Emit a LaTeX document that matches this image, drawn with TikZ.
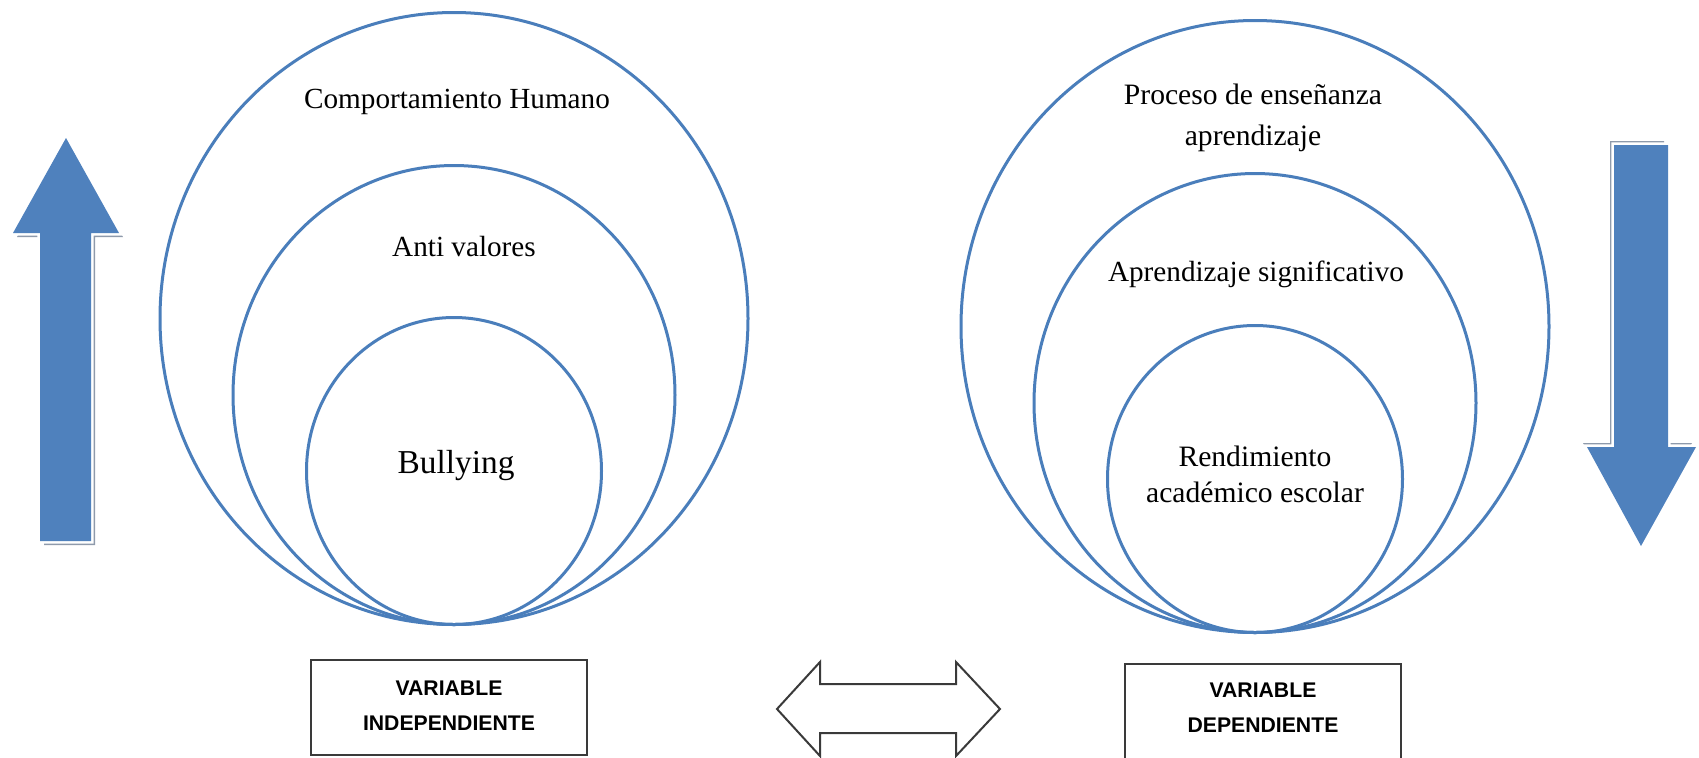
\documentclass[tikz,border=0pt]{standalone}
\usepackage{fontspec}
\setmainfont{Liberation Serif}
\newfontfamily\boxfont{Liberation Sans}
\usetikzlibrary{shapes.geometric}
\definecolor{ringblue}{HTML}{4A7EBB}
\definecolor{arrowblue}{HTML}{4F81BD}
\definecolor{shadowgray}{HTML}{8E9AAB}
\definecolor{boxline}{HTML}{3A3A3A}
\begin{document}
\begin{tikzpicture}[x=0.5pt,y=-0.5pt,
  ring/.style={draw=ringblue, line width=1.5pt, ellipse, inner sep=0pt},
  lbl/.style={inner sep=0pt, font=\fontsize{14.6}{17.5}\selectfont, align=center},
  vbox/.style={draw=boxline, line width=1pt, rectangle, inner sep=0pt, minimum width=138pt, fill=white},
  vtext/.style={inner sep=0pt, align=center, font=\boxfont\bfseries\fontsize{10.6}{17.5}\selectfont},
  blockshadow/.style={fill=shadowgray, draw=none},
  blockglow/.style={draw=white, line width=2.6pt, line join=miter},
  blockarrow/.style={fill=arrowblue, draw=none},
  dblarrow/.style={fill=white, draw=boxline, line width=1pt, line join=miter}]
\useasboundingbox (0,0) rectangle (1699,757);

% left rings
\node[ring, minimum width=294pt, minimum height=306pt] (L1) at (454,318.5) {};
\node[ring, minimum width=221pt, minimum height=229.5pt] (L2) at (454,395) {};
\node[ring, minimum width=147.5pt, minimum height=153.5pt] (L3) at (454,471) {};
% right rings
\node[ring, minimum width=294pt, minimum height=306pt] (R1) at (1255,326.5) {};
\node[ring, minimum width=221pt, minimum height=229.5pt] (R2) at (1255,403) {};
\node[ring, minimum width=147.5pt, minimum height=153.5pt] (R3) at (1255,479) {};

% labels
\node[lbl] (tL1) at (457,102) {Comportamiento Humano};
\node[lbl] (tL2) at (464,247) {Anti valores};
\node[lbl, font=\fontsize{16.7}{20}\selectfont] (tL3) at (456,466) {Bullying};
\node[lbl, font=\fontsize{14.8}{20.5}\selectfont] (tR1) at (1253,117.5) {Proceso de enseñanza\\aprendizaje};
\node[lbl] (tR2) at (1256,274) {Aprendizaje significativo};
\node[lbl, font=\fontsize{14.8}{18}\selectfont] (tR3) at (1255,474) {Rendimiento\\académico escolar};

% up arrow (left)
\fill[blockshadow, shift={(4,4)}] (66,138) -- (119,233) -- (91,233) -- (91,541) -- (40,541) -- (40,233) -- (13,233) -- cycle;
\draw[blockglow] (66,138) -- (119,233) -- (91,233) -- (91,541) -- (40,541) -- (40,233) -- (13,233) -- cycle;
\fill[blockarrow] (66,138) -- (119,233) -- (91,233) -- (91,541) -- (40,541) -- (40,233) -- (13,233) -- cycle;

% down arrow (right)
\fill[blockshadow, shift={(-4,-4)}] (1614,145) -- (1668,145) -- (1668,447) -- (1696,447) -- (1641,546) -- (1587,447) -- (1614,447) -- cycle;
\draw[blockglow] (1614,145) -- (1668,145) -- (1668,447) -- (1696,447) -- (1641,546) -- (1587,447) -- (1614,447) -- cycle;
\fill[blockarrow] (1614,145) -- (1668,145) -- (1668,447) -- (1696,447) -- (1641,546) -- (1587,447) -- (1614,447) -- cycle;

% boxes
\node[vbox, minimum height=47.5pt] (VI) at (449,707.5) {};
\node[vtext] (VItext) at (449,705.5) {VARIABLE\\INDEPENDIENTE};
\node[vbox, minimum height=49pt] (VD) at (1263,713) {};
\node[vtext] (VDtext) at (1263,707.5) {VARIABLE\\DEPENDIENTE};

% double arrow
\filldraw[dblarrow] (777,709) -- (820,662) -- (820,684) -- (956,684) -- (956,662) -- (1000,709) -- (956,756) -- (956,733) -- (820,733) -- (820,756) -- cycle;
\end{tikzpicture}
\end{document}
